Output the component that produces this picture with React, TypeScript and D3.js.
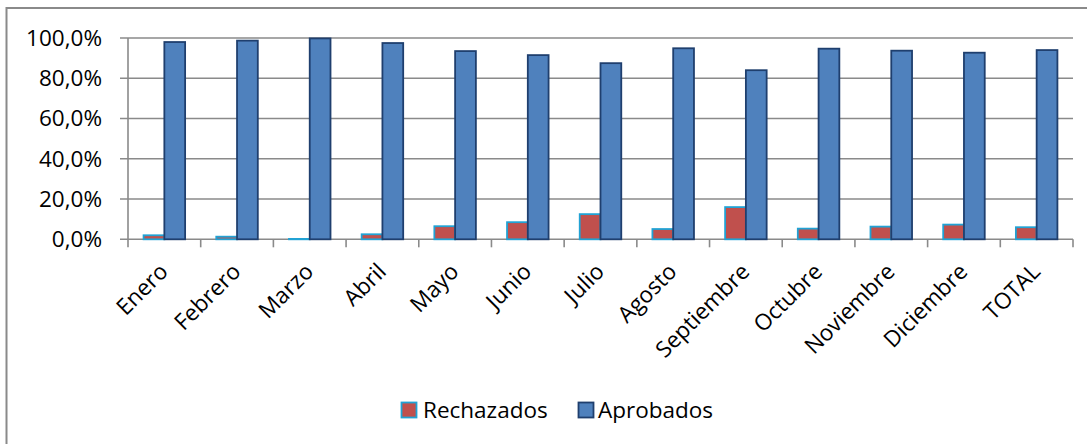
import React from "react";
import * as d3 from "d3";

const categories = ["Enero", "Febrero", "Marzo", "Abril", "Mayo", "Junio", "Julio", "Agosto", "Septiembre", "Octubre", "Noviembre", "Diciembre", "TOTAL"];
const rechazados = [2.0, 1.3, 0.2, 2.5, 6.5, 8.5, 12.5, 5.1, 16.0, 5.3, 6.3, 7.3, 6.0];
const aprobados = [98.0, 98.7, 99.8, 97.5, 93.5, 91.5, 87.5, 94.9, 84.0, 94.7, 93.7, 92.7, 94.0];
const yTicks = [0, 20, 40, 60, 80, 100];
const seriesNames = ["Rechazados", "Aprobados"];

const W = 1087;
const H = 444;
const FONT = "'Open Sans', 'Liberation Sans', sans-serif";
const FS = 22.5;
const GRID = "#8a8a8a";

export default function App() {
  const left = 128;
  const right = 1073;
  const top = 38;
  const bottom = 239.3;

  const x0 = d3.scaleBand<string>().domain(categories).range([left, right]).paddingInner(0).paddingOuter(0);
  const x1 = d3.scaleBand<string>().domain(seriesNames).range([0, x0.bandwidth()]).paddingInner(0).paddingOuter(0.75);
  const y = d3.scaleLinear().domain([0, 100]).range([bottom, top]);
  const fmt = (v: number) => v.toFixed(1).replace(".", ",") + "%";

  const series = [
    { name: "Rechazados", values: rechazados, fill: "#C0504D", stroke: "#21A2D4" },
    { name: "Aprobados", values: aprobados, fill: "#4F81BD", stroke: "#1F3F6E" },
  ];

  const boundaries = d3.range(categories.length + 1).map((i) => left + i * x0.step());

  return (
    <svg width={W} height={H} style={{ position: "absolute", left: 0, top: 0, background: "#fff" }}>
      <rect x={6.5} y={8} width={W + 10} height={H + 10} fill="#fff" stroke={GRID} strokeWidth={2} />
      {yTicks.map((t) => (
        <g key={t}>
          <line x1={120} x2={right} y1={y(t)} y2={y(t)} stroke={GRID} strokeWidth={1.6} />
          <text x={102} y={y(t)} dy="0.35em" textAnchor="end" fontFamily={FONT} fontSize={FS} fill="#000">
            {fmt(t)}
          </text>
        </g>
      ))}
      <line x1={left} x2={left} y1={top} y2={bottom} stroke={GRID} strokeWidth={1.6} />
      {boundaries.map((bx, i) => (
        <line key={i} x1={bx} x2={bx} y1={bottom} y2={bottom + 8} stroke={GRID} strokeWidth={1.6} />
      ))}
      {series.map((s) => (
        <g key={s.name}>
          {categories.map((c, i) => {
            const bx = (x0(c) as number) + (x1(s.name) as number);
            const by = y(s.values[i]);
            return (
              <rect
                key={c}
                x={bx}
                y={by}
                width={x1.bandwidth()}
                height={bottom - by}
                fill={s.fill}
                stroke={s.stroke}
                strokeWidth={1.8}
              />
            );
          })}
        </g>
      ))}
      {categories.map((c) => {
        const cx = (x0(c) as number) + x0.bandwidth() / 2 + 5;
        const ty = 273;
        return (
          <text
            key={c}
            x={cx}
            y={ty}
            transform={`rotate(-45, ${cx}, ${ty})`}
            textAnchor="end"
            fontFamily={FONT}
            fontSize={FS}
            fill="#000"
          >
            {c}
          </text>
        );
      })}
      <g>
        <rect x={401.5} y={402.5} width={15} height={15} fill="#C0504D" stroke="#21A2D4" strokeWidth={1.8} />
        <text x={423} y={417.5} fontFamily={FONT} fontSize={FS} fill="#000">
          Rechazados
        </text>
        <rect x={578.5} y={402.5} width={15} height={15} fill="#4F81BD" stroke="#1F3F6E" strokeWidth={1.8} />
        <text x={598} y={417.5} fontFamily={FONT} fontSize={FS} fill="#000">
          Aprobados
        </text>
      </g>
    </svg>
  );
}
